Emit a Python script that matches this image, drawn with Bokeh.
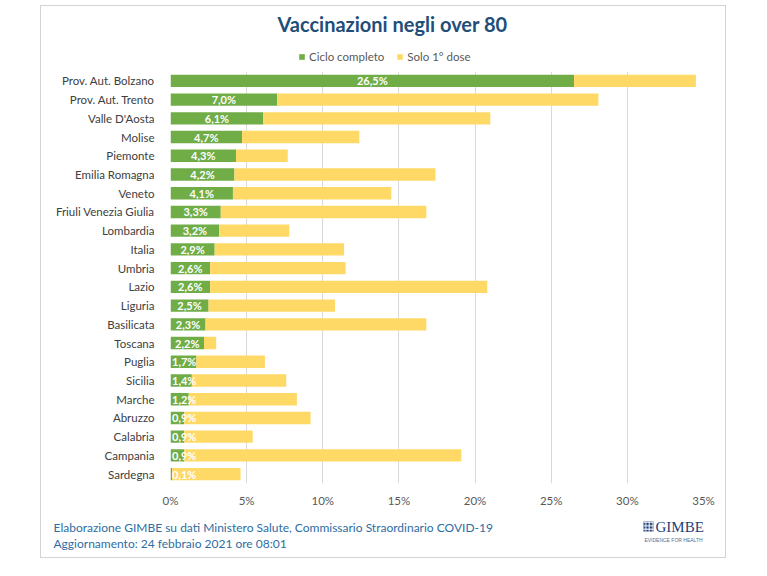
from bokeh.plotting import figure
from bokeh.layouts import column
from bokeh.models import (FactorRange, Range1d, ColumnDataSource, Legend, LegendItem,
                          Label, BoxAnnotation, PrintfTickFormatter, FixedTicker)
from bokeh.core.properties import value
from bokeh.embed import file_html
from bokeh.resources import INLINE

# ---------------- data ----------------
regioni = ["Prov. Aut. Bolzano", "Prov. Aut. Trento", "Valle D'Aosta", "Molise", "Piemonte",
           "Emilia Romagna", "Veneto", "Friuli Venezia Giulia", "Lombardia", "Italia",
           "Umbria", "Lazio", "Liguria", "Basilicata", "Toscana", "Puglia", "Sicilia",
           "Marche", "Abruzzo", "Calabria", "Campania", "Sardegna"]
ciclo_completo = [26.5, 7.0, 6.1, 4.7, 4.3, 4.2, 4.1, 3.3, 3.2, 2.9, 2.6, 2.6, 2.5, 2.3,
                  2.2, 1.7, 1.4, 1.2, 0.9, 0.9, 0.9, 0.1]
solo_prima_dose = [8.0, 21.1, 14.9, 7.7, 3.4, 13.2, 10.4, 13.5, 4.6, 8.5, 8.9, 18.2, 8.3,
                   14.5, 0.8, 4.5, 6.2, 7.1, 8.3, 4.5, 18.2, 4.5]
x_ticks = [0, 5, 10, 15, 20, 25, 30, 35]

titolo = "Vaccinazioni negli over 80"
serie = ["Ciclo completo", "Solo 1° dose"]
nota1 = "Elaborazione GIMBE su dati Ministero Salute, Commissario Straordinario COVID-19"
nota2 = "Aggiornamento: 24 febbraio 2021 ore 08:01"

GREEN = "#70AD47"
YELLOW = "#FFD966"
FONT = "Lato"
CARD_W = 684

etichette = [f"{v:.1f}%".replace(".", ",") for v in ciclo_completo]
pos_etichette = [max(v / 2, 0.9) for v in ciclo_completo]

source = ColumnDataSource(dict(regione=regioni, completo=ciclo_completo,
                               solo=solo_prima_dose, lab=etichette, lx=pos_etichette))


def plain(h):
    f = figure(width=CARD_W, height=h, output_backend="svg", toolbar_location=None,
               x_range=Range1d(0, CARD_W), y_range=Range1d(h, 0),
               x_axis_type=None, y_axis_type=None, min_border=0)
    f.grid.visible = False
    f.outline_line_color = None
    f.background_fill_color = "white"
    f.border_fill_color = "white"
    f.frame_align = False
    return f


# ---------------- header (title + legend) ----------------
head = plain(60)
head.add_layout(Label(x=351, y=17, text=titolo, text_font=FONT, text_font_size="20px",
                      text_font_style="bold", text_color="#1F4E79",
                      text_align="center", text_baseline="middle"))
# legend keys: same stacked series; categorical y values do not map onto this
# header's numeric range, so only the legend swatches appear here
leg_r = head.hbar_stack(["completo", "solo"], y="regione", height=0.66,
                        color=[GREEN, YELLOW], source=source, line_color=None)
legend = Legend(items=[LegendItem(label=serie[0], renderers=[leg_r[0]]),
                       LegendItem(label=serie[1], renderers=[leg_r[1]])],
                orientation="horizontal", location=(257, 3),
                label_text_font=FONT, label_text_font_size="11.5px",
                label_text_color="#595959", glyph_width=7, glyph_height=7,
                label_standoff=4, spacing=12, padding=0, margin=0,
                border_line_color=None, background_fill_alpha=0)
head.add_layout(legend)

# ---------------- main chart ----------------
p = figure(width=CARD_W, height=450, output_backend="svg", toolbar_location=None,
           y_range=FactorRange(factors=regioni[::-1]), x_range=Range1d(0, 35),
           min_border_left=129, min_border_right=22, min_border_top=5, min_border_bottom=33)
p.outline_line_color = None
p.background_fill_color = "white"
p.border_fill_color = "white"
p.frame_align = False

rs = p.hbar_stack(["completo", "solo"], y="regione", height=0.66, color=[GREEN, YELLOW],
                  source=source, line_color=None)

p.text(x="lx", y="regione", text="lab", source=source, text_color="white",
       text_font=value(FONT), text_font_size="11px", text_font_style="bold",
       text_align="center", text_baseline="middle")

p.xaxis.ticker = FixedTicker(ticks=x_ticks)
p.xaxis.formatter = PrintfTickFormatter(format="%d%%")
for ax in (p.xaxis[0], p.yaxis[0]):
    ax.axis_line_color = None
    ax.major_tick_line_color = None
    ax.minor_tick_line_color = None
    ax.major_label_text_font = FONT
    ax.major_label_text_font_size = "11.5px"
p.xaxis.major_label_text_color = "#595959"
p.yaxis.major_label_text_color = "#404040"
p.xaxis.major_label_standoff = 4
p.yaxis.major_label_standoff = 10
p.xgrid.grid_line_color = "#D9D9D9"
p.ygrid.grid_line_color = None

# ---------------- footer ----------------
foot = plain(41)
foot.add_layout(Label(x=12, y=11, text=nota1, text_font=FONT, text_font_size="12px",
                      text_color="#2E6DA4", text_align="left", text_baseline="middle"))
foot.add_layout(Label(x=12, y=27, text=nota2, text_font=FONT, text_font_size="12px",
                      text_color="#2E6DA4", text_align="left", text_baseline="middle"))
foot.add_layout(BoxAnnotation(left=602, right=612, top=5, bottom=15,
                              fill_color="#1F3F77", fill_alpha=1, line_color=None,
                              hatch_pattern="+", hatch_color="white", hatch_scale=3.5))
foot.add_layout(Label(x=614, y=10, text="GIMBE", text_font="Liberation Serif",
                      text_font_size="15px", text_color="#1F3F77",
                      text_align="left", text_baseline="middle"))
foot.add_layout(Label(x=632, y=23, text="EVIDENCE FOR HEALTH", text_font="Liberation Sans",
                      text_font_size="5px", text_color="#5A6E8C",
                      text_align="center", text_baseline="middle"))

page = column(head, p, foot, margin=(5, 0, 0, 40),
              styles={"border": "1px solid #D3D3D3"})

open("out.html", "w").write(file_html(page, INLINE))
